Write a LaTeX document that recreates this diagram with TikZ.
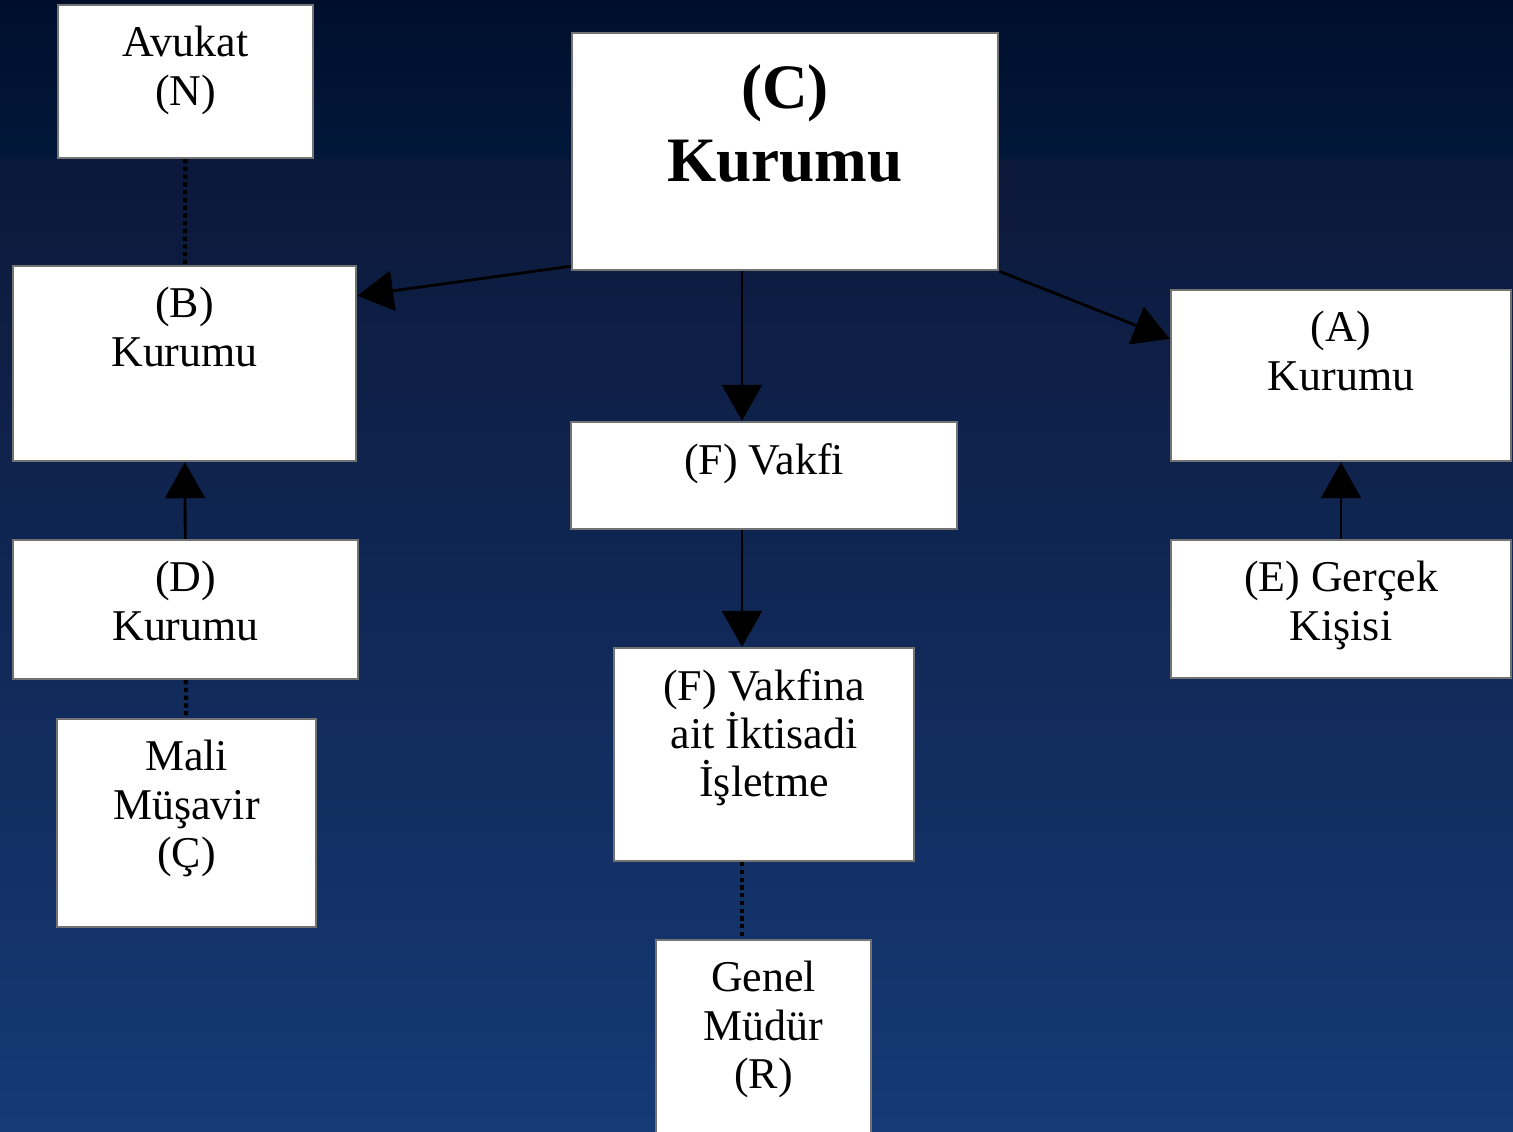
\documentclass[tikz,border=0pt]{standalone}
\usepackage{fontspec}
\setmainfont{Liberation Serif}
\usepackage{tikz}
\usetikzlibrary{arrows.meta}
\definecolor{bgtop}{RGB}{0,14,44}
\definecolor{bgmid}{RGB}{1,24,58}
\definecolor{bgband}{RGB}{12,24,58}
\definecolor{bgbottom}{RGB}{21,58,118}
\newcommand\boxfont{\fontsize{12.5}{13.7}\selectfont}
\newcommand\bigboxfont{\fontsize{18}{20.8}\selectfont\bfseries}

\begin{document}
\begin{tikzpicture}[
  orgbox/.style={draw=black!55, fill=white, line width=0.7pt, inner sep=0pt},
  boxlabel/.style={anchor=north, yshift=-0.22cm, align=center, inner sep=0pt, font=\boxfont},
  link/.style={draw=black, line width=1.2pt, densely dotted},
  flow/.style={draw=black, line width=0.8pt, -{Triangle[length=3.6mm,width=4mm]}}]
\useasboundingbox (0,0) rectangle (15.13,-11.32);
% background
\shade[top color=bgtop, bottom color=bgmid] (0,0) rectangle (15.13,-1.6);
\shade[top color=bgband, bottom color=bgbottom] (0,-1.6) rectangle (15.13,-11.32);

% boxes
\node[orgbox, minimum width=2.55cm, minimum height=1.53cm, label={[boxlabel]north:{Avukat\\(N)}}] (avukat) at (1.855,-0.815) {};
\node[orgbox, minimum width=4.26cm, minimum height=2.37cm, label={[boxlabel, yshift=-0.1cm, font=\bigboxfont]north:{(C)\\Kurumu}}] (kurumC) at (7.85,-1.515) {};
\node[orgbox, minimum width=3.43cm, minimum height=1.95cm, label={[boxlabel]north:{(B)\\Kurumu}}] (kurumB) at (1.845,-3.635) {};
\node[orgbox, minimum width=3.40cm, minimum height=1.71cm, label={[boxlabel]north:{(A)\\Kurumu}}] (kurumA) at (13.41,-3.755) {};
\node[orgbox, minimum width=3.86cm, minimum height=1.07cm, label={[boxlabel]north:{(F) Vakfi}}] (vakif) at (7.64,-4.755) {};
\node[orgbox, minimum width=3.45cm, minimum height=1.39cm, label={[boxlabel]north:{(D)\\Kurumu}}] (kurumD) at (1.855,-6.095) {};
\node[orgbox, minimum width=3.40cm, minimum height=1.38cm, label={[boxlabel]north:{(E) Gerçek\\Kişisi}}] (gercek) at (13.41,-6.09) {};
\node[orgbox, minimum width=2.59cm, minimum height=2.08cm, label={[boxlabel]north:{Mali\\Müşavir\\(Ç)}}] (mali) at (1.865,-8.23) {};
\node[orgbox, minimum width=3.00cm, minimum height=2.13cm, label={[boxlabel]north:{(F) Vakfina\\ait İktisadi\\İşletme}}] (isletme) at (7.64,-7.545) {};
\node[orgbox, minimum width=2.15cm, minimum height=2.00cm, label={[boxlabel]north:{Genel\\Müdür\\(R)}}] (genel) at (7.635,-10.40) {};

% connectors
\coordinate (midline) at (7.42,0);
\draw[link] (avukat) -- (kurumB);
\draw[link] (kurumD) -- (mali);
\draw[link] (isletme.south -| midline) -- (genel.north -| midline);
\draw[flow] ([yshift=0.05cm]kurumC.south west) -- ([yshift=-0.31cm]kurumB.north east);
\draw[flow] (kurumC.south east) -- ([yshift=-0.5cm]kurumA.north west);
\draw[flow] (kurumC.south -| midline) -- (vakif.north -| midline);
\draw[flow] (vakif.south -| midline) -- (isletme.north -| midline);
\draw[flow] (kurumD) -- (kurumB);
\draw[flow] (gercek) -- (kurumA);
\end{tikzpicture}
\end{document}
